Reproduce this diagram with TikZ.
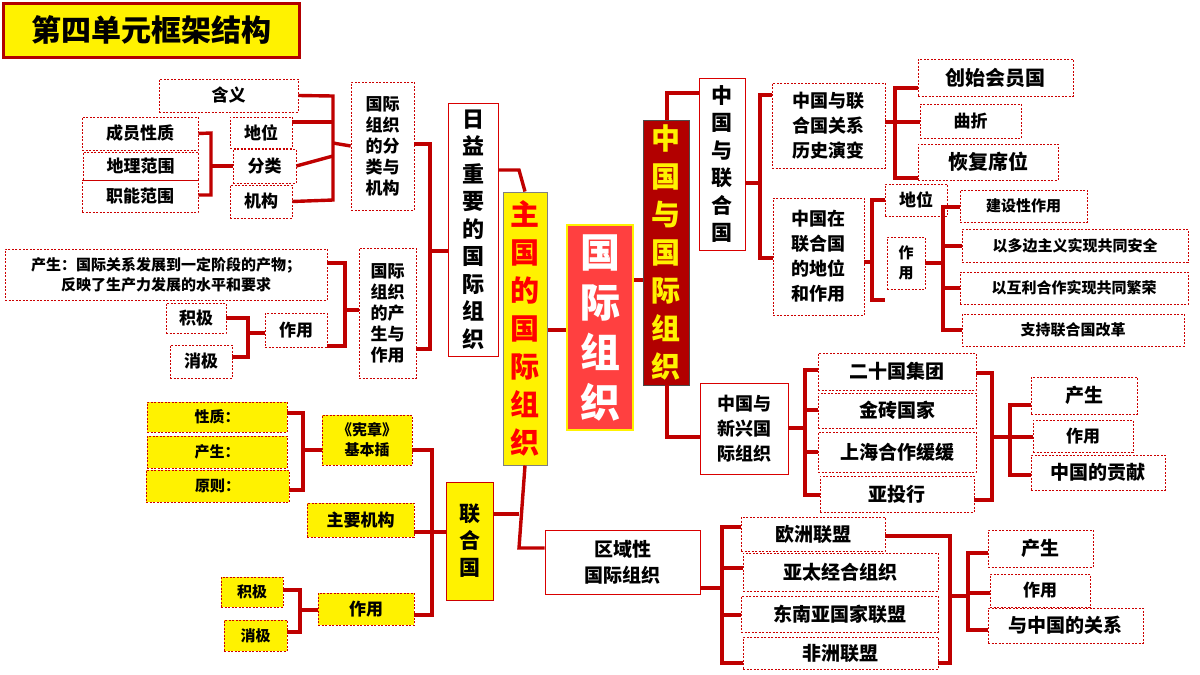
\documentclass[tikz,border=0pt]{standalone}
\usepackage{fontspec}
\setmainfont{Noto Sans CJK SC}
\begin{document}
\begin{tikzpicture}[x=1pt,y=-1pt,
 br/.style={draw=red!75!black,line width=3.4pt},
 base/.style={inner sep=0pt,align=center,font=\bfseries\fontsize{17}{21}\selectfont},
 db/.style={base,draw=red!80!black,dash pattern=on 2pt off 1.5pt,line width=0.7pt},
 sb/.style={base,draw=red!85!black,line width=0.9pt},
 yb/.style={base,fill=yellow,draw=red!80!black,dash pattern=on 2pt off 1.5pt,line width=0.7pt}]
\newcommand\bx[7]{\pgfmathsetmacro\cx{(#2+#4)/2}\pgfmathsetmacro\cy{(#3+#5)/2}\pgfmathsetmacro\ww{#4-#2}\pgfmathsetmacro\hh{#5-#3}%
 \node[#6,minimum width=\ww pt,minimum height=\hh pt] (#1) at (\cx,\cy) {#7};}
\useasboundingbox (0,0) rectangle (1200,675);
\fill[white] (0,0) rectangle (1200,675);
% title
\node[fill=yellow,draw=red!70!black,line width=3pt,minimum width=296pt,minimum height=54pt,inner sep=0pt,font=\bfseries\fontsize{30}{34}\selectfont] (title) at (151,30) {第四单元框架结构};
% center
\bx{gjzz}{567}{225}{633}{430}{base,fill=red!75,draw=yellow,line width=2.5pt,text=white,font=\bfseries\fontsize{40}{50}\selectfont}{国\\际\\组\\织}
\bx{zhu}{503}{192}{547}{465}{base,fill=yellow,draw=gray,line width=1pt,text=red,font=\bfseries\fontsize{29}{38}\selectfont}{主\\国\\的\\国\\际\\组\\织}
\bx{zg}{643}{120}{689}{385}{base,fill=red!70!black,draw=gray!60!black,text=yellow,font=\bfseries\fontsize{29}{38}\selectfont}{中\\国\\与\\国\\际\\组\\织}
% left upper
\bx{ry}{448}{103}{498}{356}{sb,font=\bfseries\fontsize{22}{27.5}\selectfont}{日\\益\\重\\要\\的\\国\\际\\组\\织}
\bx{fl}{351}{82}{414}{210}{db}{国际\\组织\\的分\\类与\\机构}
\bx{hy}{159}{79}{298}{112}{db}{含义}
\bx{dw}{230}{117}{292}{148}{db}{地位}
\bx{fenlei}{233}{149}{296}{183}{db}{分类}
\bx{jg}{230}{185}{292}{218}{db}{机构}
\bx{cy}{82}{117}{198}{150}{db}{成员性质}
\bx{dl}{83}{152}{198}{180}{db}{地理范围}
\bx{zn}{82}{180}{198}{212}{db}{职能范围}
\bx{cs}{359}{248}{416}{378}{db}{国际\\组织\\的产\\生与\\作用}
\bx{cschan}{5}{249}{327}{300}{db,font=\bfseries\fontsize{15}{20}\selectfont}{产生：国际关系发展到一定阶段的产物；\\反映了生产力发展的水平和要求}
\bx{jj1}{166}{303}{226}{333}{db}{积极}
\bx{xj1}{170}{345}{232}{378}{db}{消极}
\bx{zy1}{265}{313}{327}{347}{db}{作用}
\draw[br] (hy.east) -- (333,96) -- (333,200) -- (jg.east);
\draw[br] (292,122) -- (333,122); \draw[br] (fenlei.east) -- (333,156);
\draw[br] (333,143) -- (fl.west);
\draw[br] (cy.east) -- (211,133) -- (211,195) -- (zn.east |- 0,195);
\draw[br] (211,166) -- (fenlei.west);
\draw[br] (fl.east |- 0,144) -- (430,144) -- (430,349) -- (cs.east |- 0,349);
\draw[br] (430,251) -- (ry.west |- 0,251);
\draw[br] (ry.east |- 0,170) -- (519,170) -- (zhu.north);
\draw[br] (cschan.east |- 0,263) -- (345,263) -- (345,346) -- (327,346);
\draw[br] (345,310) -- (cs.west |- 0,310);
\draw[br] (jj1.east |- 0,318) -- (248,318) -- (248,357) -- (xj1.east |- 0,357);
\draw[br] (248,333) -- (zy1.west |- 0,333);
\draw[br] (zhu.east |- 0,330) -- (gjzz.west |- 0,330);
\draw[br] (gjzz.east |- 0,280) -- (zg.west |- 0,280);
% right upper
\bx{zglhg}{699}{78}{745}{250}{sb,font=\bfseries\fontsize{21}{27.5}\selectfont}{中\\国\\与\\联\\合\\国}
\bx{ls}{772}{83}{885}{168}{db,font=\bfseries\fontsize{18}{25}\selectfont}{中国与联\\合国关系\\历史演变}
\bx{dwzy}{773}{198}{864}{315}{db,font=\bfseries\fontsize{18}{25}\selectfont}{中国在\\联合国\\的地位\\和作用}
\bx{cshy}{918}{59}{1073}{96}{db,font=\bfseries\fontsize{20}{24}\selectfont}{创始会员国}
\bx{qz}{920}{104}{1021}{138}{db}{曲折}
\bx{hf}{918}{144}{1058}{180}{db,font=\bfseries\fontsize{20}{24}\selectfont}{恢复席位}
\bx{dw2}{885}{184}{947}{216}{db}{地位}
\bx{zy2}{887}{237}{925}{289}{db,font=\bfseries\fontsize{15}{20}\selectfont}{作\\用}
\bx{js}{960}{190}{1087}{222}{db,font=\bfseries\fontsize{15}{20}\selectfont}{建设性作用}
\bx{dbz}{962}{229}{1188}{262}{db,font=\bfseries\fontsize{15}{20}\selectfont}{以多边主义实现共同安全}
\bx{hl}{960}{272}{1188}{304}{db,font=\bfseries\fontsize{15}{20}\selectfont}{以互利合作实现共同繁荣}
\bx{zc}{962}{314}{1184}{346}{db,font=\bfseries\fontsize{15}{20}\selectfont}{支持联合国改革}
\draw[br] (zg.north -| 667,0) -- (667,93) -- (zglhg.west |- 0,93);
\draw[br] (zglhg.east |- 0,183) -- (760,183);
\draw[br] (ls.west |- 0,95) -- (760,95) -- (760,258) -- (dwzy.west |- 0,258);
\draw[br] (cshy.west |- 0,88) -- (895,88) -- (895,178) -- (hf.west |- 0,178);
\draw[br] (ls.east |- 0,122) -- (qz.west |- 0,122);
\draw[br] (dw2.west |- 0,200) -- (872,200) -- (872,300) -- (885,300);
\draw[br] (dwzy.east |- 0,262) -- (872,262);
\draw[br] (js.west |- 0,207) -- (943,207) -- (943,330) -- (zc.west |- 0,330);
\draw[br] (943,246) -- (dbz.west |- 0,246); \draw[br] (943,288) -- (hl.west |- 0,288);
\draw[br] (zy2.east |- 0,263) -- (943,263);
% emerging
\bx{xx}{700}{383}{788}{474}{sb,font=\bfseries\fontsize{18}{25}\selectfont}{中国与\\新兴国\\际组织}
\bx{g20}{818}{353}{976}{390}{db,font=\bfseries\fontsize{19}{24}\selectfont}{二十国集团}
\bx{jz}{818}{393}{976}{428}{db,font=\bfseries\fontsize{19}{24}\selectfont}{金砖国家}
\bx{sh}{818}{432}{976}{472}{db,font=\bfseries\fontsize{19}{24}\selectfont}{上海合作缓缓}
\bx{ytx}{820}{476}{974}{512}{db,font=\bfseries\fontsize{19}{24}\selectfont}{亚投行}
\bx{cs3}{1031}{377}{1137}{414}{db,font=\bfseries\fontsize{19}{24}\selectfont}{产生}
\bx{zy3}{1033}{420}{1133}{452}{db}{作用}
\bx{gx3}{1031}{455}{1165}{490}{db,font=\bfseries\fontsize{19}{24}\selectfont}{中国的贡献}
\draw[br] (zg.south -| 667,0) -- (667,437) -- (xx.west |- 0,437);
\draw[br] (g20.west |- 0,370) -- (805,370) -- (805,495) -- (ytx.west |- 0,495);
\draw[br] (xx.east |- 0,428) -- (805,428);
\draw[br] (805,410) -- (jz.west |- 0,410); \draw[br] (805,452) -- (sh.west |- 0,452);
\draw[br] (g20.east |- 0,373) -- (992,373) -- (992,500) -- (ytx.east |- 0,500);
\draw[br] (992,437) -- (1010,437);
\draw[br] (cs3.west |- 0,405) -- (1010,405) -- (1010,475) -- (gx3.west |- 0,475);
\draw[br] (1010,437) -- (zy3.west |- 0,437);
% UN
\bx{lhg}{446}{482}{493}{600}{base,fill=yellow,draw=red!80!black,line width=0.8pt,font=\bfseries\fontsize{21}{27}\selectfont}{联\\合\\国}
\bx{xz}{322}{415}{412}{465}{yb,font=\bfseries\fontsize{15}{20}\selectfont}{《宪章》\\基本插}
\bx{zyjg}{307}{503}{414}{537}{yb}{主要机构}
\bx{zy4}{318}{593}{414}{625}{yb}{作用}
\bx{xzz}{147}{402}{287}{432}{yb,font=\bfseries\fontsize{15}{20}\selectfont}{性质：}
\bx{csz}{147}{436}{287}{468}{yb,font=\bfseries\fontsize{15}{20}\selectfont}{产生：}
\bx{yz}{146}{470}{289}{502}{yb,font=\bfseries\fontsize{15}{20}\selectfont}{原则：}
\bx{jj4}{221}{577}{283}{607}{yb,font=\bfseries\fontsize{15}{20}\selectfont}{积极}
\bx{xj4}{224}{620}{287}{651}{yb,font=\bfseries\fontsize{15}{20}\selectfont}{消极}
\bx{qy}{545}{530}{700}{594}{sb,font=\bfseries\fontsize{19}{26}\selectfont}{区域性\\国际组织}
\draw[br] (zhu.south) -- (519,548) -- (qy.west |- 0,548);
\draw[br] (lhg.east |- 0,514) -- (519,514);
\draw[br] (xz.east |- 0,450) -- (432,450) -- (432,615) -- (zy4.east |- 0,615);
\draw[br] (zyjg.east |- 0,532) -- (lhg.west |- 0,532);
\draw[br] (xzz.east |- 0,413) -- (303,413) -- (303,490) -- (yz.east |- 0,490);
\draw[br] (303,450) -- (xz.west |- 0,450);
\draw[br] (jj4.east |- 0,590) -- (300,590) -- (300,632) -- (xj4.east |- 0,632);
\draw[br] (300,610) -- (zy4.west |- 0,610);
% regional
\bx{oz}{741}{517}{885}{551}{db,font=\bfseries\fontsize{19}{24}\selectfont}{欧洲联盟}
\bx{yt}{743}{553}{938}{591}{db,font=\bfseries\fontsize{19}{24}\selectfont}{亚太经合组织}
\bx{dny}{741}{596}{938}{632}{db,font=\bfseries\fontsize{19}{24}\selectfont}{东南亚国家联盟}
\bx{fz}{743}{637}{938}{669}{db,font=\bfseries\fontsize{19}{24}\selectfont}{非洲联盟}
\bx{cs5}{988}{530}{1093}{567}{db,font=\bfseries\fontsize{19}{24}\selectfont}{产生}
\bx{zy5}{990}{574}{1090}{607}{db}{作用}
\bx{gx5}{988}{608}{1143}{643}{db,font=\bfseries\fontsize{19}{24}\selectfont}{与中国的关系}
\draw[br] (oz.west |- 0,527) -- (722,527) -- (722,663) -- (fz.west |- 0,663);
\draw[br] (qy.east |- 0,588) -- (722,588);
\draw[br] (722,568) -- (yt.west |- 0,568); \draw[br] (722,615) -- (dny.west |- 0,615);
\draw[br] (oz.east |- 0,536) -- (950,536) -- (950,663) -- (fz.east |- 0,663);
\draw[br] (950,596) -- (968,596);
\draw[br] (cs5.west |- 0,553) -- (968,553) -- (968,630) -- (gx5.west |- 0,630);
\draw[br] (968,593) -- (zy5.west |- 0,593);
\end{tikzpicture}
\end{document}
